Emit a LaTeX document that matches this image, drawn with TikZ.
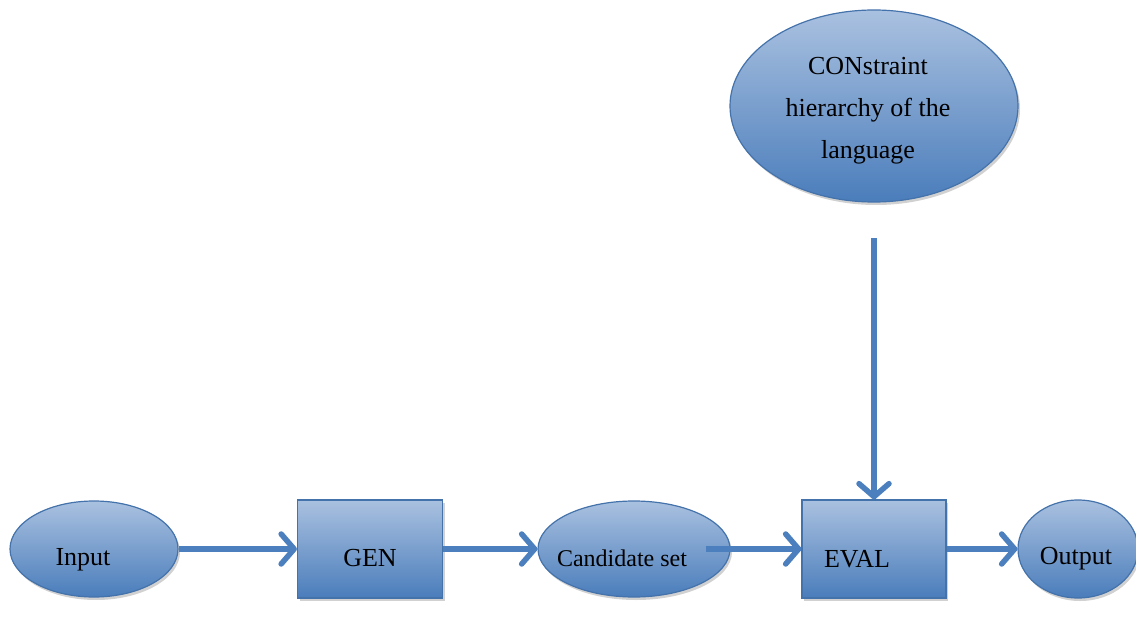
\documentclass[tikz,border=0pt]{standalone}
\usepackage{fontspec}
\setmainfont{Liberation Serif}
\usetikzlibrary{arrows.meta,shapes.geometric,shadows}
\definecolor{topc}{RGB}{170,193,224}
\definecolor{botc}{RGB}{74,125,187}
\definecolor{edgec}{RGB}{68,114,170}
\definecolor{arrc}{RGB}{76,127,190}
\tikzset{
  blob/.style={draw=edgec, line width=1.2pt, top color=topc, bottom color=botc, inner sep=0pt,
     drop shadow={shadow xshift=2pt, shadow yshift=-3pt, fill=black, opacity=0.18}},
  ell/.style={blob, ellipse},
  box/.style={blob, rectangle},
  lbl/.style={font=\fontsize{26}{42}\selectfont, text=black, align=center, inner sep=0pt},
  arr/.style={draw=arrc, line width=5.5pt, -{Straight Barb[round, length=13pt, width=30pt]}},
}
\begin{document}
\begin{tikzpicture}[x=1pt,y=-1pt]
\useasboundingbox (0,0) rectangle (1136,623);
\node[ell, minimum width=168pt, minimum height=96pt] (in) at (94,549) {};
\node[box, minimum width=145pt, minimum height=98pt] (gen) at (370,549) {};
\node[ell, minimum width=192pt, minimum height=96pt] (cand) at (634,549) {};
\node[box, minimum width=144pt, minimum height=98pt] (eval) at (874,549) {};
\node[ell, minimum width=120pt, minimum height=98pt] (out) at (1078,549) {};
\node[ell, minimum width=288pt, minimum height=192pt] (con) at (874,106) {};
\node[lbl] (tin) at (83,560) {Input};
\node[lbl] (tgen) at (370,558) {GEN};
\node[lbl, font=\fontsize{24}{30}\selectfont] (tcand) at (622,558) {Candidate set};
\node[lbl] (teval) at (857,559) {EVAL};
\node[lbl] (tout) at (1076,559) {Output};
\node[lbl] (tcon) at (868,111) {CONstraint\\hierarchy of the\\language};
\coordinate (vs) at (874,238);
\draw[arr] (in.east) -- (gen.west);
\draw[arr] (gen.east) -- (cand.west);
\draw[arr] ([xshift=-25pt]cand.east) -- (eval.west);
\draw[arr] (eval.east) -- (out.west);
\draw[arr] (vs) -- (eval.north);
\end{tikzpicture}
\end{document}
